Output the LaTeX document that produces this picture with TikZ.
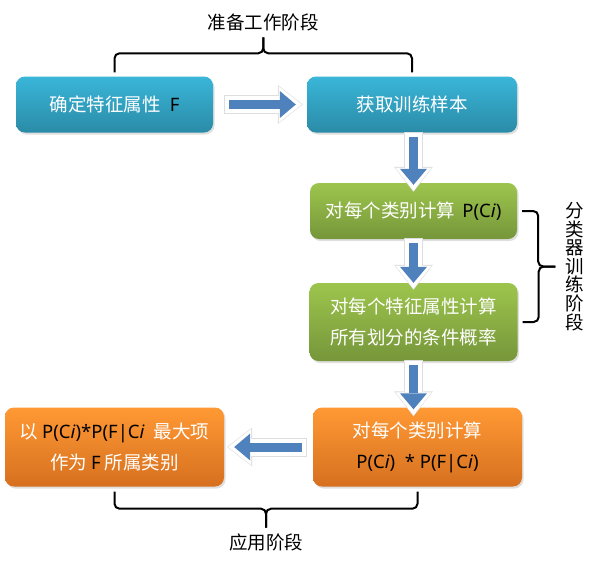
\documentclass[tikz,border=0pt]{standalone}
\usepackage{fontspec}
\setmainfont{Noto Sans CJK SC}
\newfontfamily\lat{Noto Sans}
\usetikzlibrary{arrows.meta,calc,shadows}
\definecolor{tealtop}{HTML}{3AB6D9}
\definecolor{tealbot}{HTML}{2A8BA7}
\definecolor{leaftop}{HTML}{9DC54D}
\definecolor{leafbot}{HTML}{76963A}
\definecolor{ambertop}{HTML}{FF9934}
\definecolor{amberbot}{HTML}{D6701F}
\definecolor{flowblue}{HTML}{4F81BD}
\newcommand{\formula}[1]{{\lat\color{black}#1}}

\begin{document}
\begin{tikzpicture}[
    x=1pt, y=-1pt,
    stepbox/.style={rounded corners=9pt, inner sep=0pt, align=center, text=white,
        font=\fontsize{18.5}{31}\selectfont,
        drop shadow={shadow xshift=1.5pt, shadow yshift=-2pt, opacity=0.25}},
    prep/.style={stepbox, top color=tealtop, bottom color=tealbot},
    train/.style={stepbox, top color=leaftop, bottom color=leafbot},
    apply/.style={stepbox, top color=ambertop, bottom color=amberbot},
    flow/.style={draw=flowblue, line width=9pt, shorten >=6pt, shorten <=4pt,
        -{Triangle[length=16pt, width=27pt, line width=0pt]},
        preaction={draw=black!13, line width=19pt, shorten >=-1pt, shorten <=-1pt,
            -{Triangle[length=25pt, width=39pt, line width=0pt]}},
        preaction={draw=white, line width=17pt, shorten >=0pt, shorten <=0pt,
            -{Triangle[length=23pt, width=36pt, line width=0pt]}}},
    stagebrace/.style={draw=black, line width=2pt, rounded corners=5pt},
    phase/.style={inner sep=0pt, font=\fontsize{18.5}{18.6}\selectfont, align=center}
]
\fill[white] (0,0) rectangle (604,571);
\useasboundingbox (0,0) rectangle (604,571);

% preparation
\node[prep, minimum width=197pt, minimum height=56pt] (feat) at (114.5,104.5)
    {确定特征属性\hspace{0.5em}\formula{\bfseries F}};
\node[prep, minimum width=210pt, minimum height=56pt] (sample) at (412,104.5) {获取训练样本};

% training
\node[train, minimum width=207pt, minimum height=56pt] (prior) at (413.5,211)
    {对每个类别计算\hspace{0.4em}\formula{P(C\textit{i})}};
\node[train, minimum width=208pt, minimum height=78pt] (cond) at (413.5,322)
    {对每个特征属性计算\\所有划分的条件概率};

% application
\node[apply, minimum width=209pt, minimum height=79pt] (score) at (417.5,447)
    {对每个类别计算\\\formula{P(C\textit{i})\ \ *\ P(F|C\textit{i})}};
\node[apply, minimum width=219pt, minimum height=79pt] (pick) at (114.5,447)
    {以 \formula{P(C\textit{i})*P(F|C\textit{i}}\hspace{0.5em}最大项\\作为 \formula{\bfseries F} 所属类别};

% arrows
\draw[flow] ([xshift=12pt]feat.east) -- ([xshift=-5pt]sample.west);
\draw[flow] (prior.north |- sample.south) -- ([yshift=-8pt]prior.north);
\draw[flow] (prior.south) -- ([yshift=-6pt]cond.north);
\draw[flow] (cond.south) -- ($(cond.south |- score.north)+(0,8)$);
\draw[flow] ([xshift=-7pt]score.west) -- ([xshift=4pt]pick.east);

% top brace
\coordinate (tl) at ([yshift=4pt]feat.north);
\coordinate (tr) at ([yshift=4pt]sample.north);
\coordinate (ttip) at ($(tl)!.5!(tr)+(0,-35)$);
\draw[stagebrace] (tl) -- ++(0,-19) -| (ttip);
\draw[stagebrace] (ttip) |- ($(tr)+(0,-19)$) -- (tr);
\node[phase, yshift=15pt] (prepl) at (ttip) {准备工作阶段};

% right brace
\coordinate (rt) at ([xshift=5pt]prior.east);
\coordinate (rb) at ([xshift=5pt]cond.east);
\coordinate (rtip) at ($(rt)!.5!(rb)+(33,0)$);
\draw[stagebrace] (rt) -- ++(16,0) |- (rtip);
\draw[stagebrace] (rtip) -| ($(rb)+(16,0)$) -- (rb);
\node[phase, xshift=19pt] (trainl) at (rtip) {分\\类\\器\\训\\练\\阶\\段};

% bottom brace
\coordinate (bl) at ([yshift=-5pt]pick.south);
\coordinate (br) at ([yshift=-5pt]score.south);
\coordinate (btip) at ($(bl)!.5!(br)+(0,36)$);
\draw[stagebrace] (bl) -- ++(0,17) -| (btip);
\draw[stagebrace] (btip) |- ($(br)+(0,17)$) -- (br);
\node[phase, yshift=-15pt] (applyl) at (btip) {应用阶段};
\end{tikzpicture}
\end{document}
